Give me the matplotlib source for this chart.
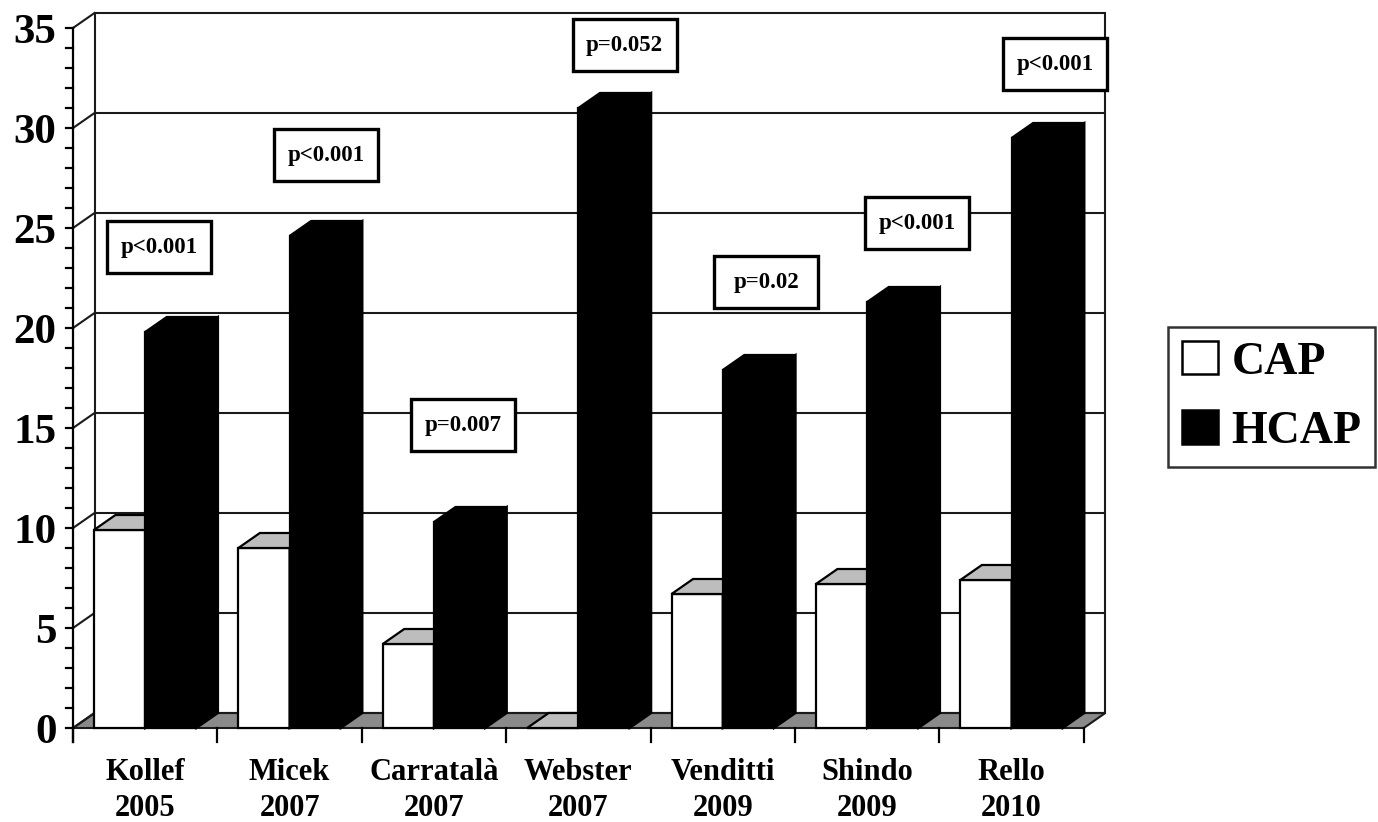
import matplotlib
matplotlib.use("Agg")
import matplotlib.pyplot as plt
from matplotlib.patches import Polygon, Patch, Rectangle

# ---------------- data ----------------
categories = ["Kollef\n2005", "Micek\n2007", "Carratalà\n2007", "Webster\n2007",
              "Venditti\n2009", "Shindo\n2009", "Rello\n2010"]
cap = [9.9, 9.0, 4.2, 0.0, 6.7, 7.2, 7.4]
hcap = [19.8, 24.6, 10.3, 31.0, 17.9, 21.3, 29.5]
p_labels = ["p<0.001", "p<0.001", "p=0.007", "p=0.052", "p=0.02", "p<0.001", "p<0.001"]
series_names = ["CAP", "HCAP"]
y_major = [0, 5, 10, 15, 20, 25, 30, 35]

# ---------------- layout ----------------
p_pos = [(0.596, 24.05), (1.752, 28.65), (2.70, 15.15), (3.82, 34.15),
         (4.80, 22.3), (5.845, 25.25), (6.80, 33.2)]
BOX_W, BOX_H = 0.72, 2.6   # p-value box size (category units, value units)
DX, DY = 0.149, 0.75      # depth offset of the pseudo-3D projection
BW = 0.355                # bar width (category units)
YMAX = 35

plt.rcParams['font.family'] = ['Liberation Serif', 'DejaVu Serif']
plt.rcParams['font.weight'] = 'bold'

fig = plt.figure(figsize=(13.78, 8.22), dpi=100)
ax = fig.add_axes([0, 0, 1, 1])
ax.set_xlim(-0.5055, 9.0374)
ax.set_ylim(-4.7, 36.4)
ax.axis('off')

n = len(categories)
GRID = '#1a1a1a'
lw_grid = 1.5

# floor
ax.add_patch(Polygon([(0, 0), (n, 0), (n + DX, DY), (DX, DY)], closed=True,
                     facecolor='#8a8a8a', edgecolor=GRID, lw=lw_grid, zorder=1))
# back wall gridlines + left wall diagonals
for v in y_major:
    ax.plot([DX, n + DX], [v + DY, v + DY], color=GRID, lw=lw_grid, zorder=2,
            solid_capstyle='butt')
    ax.plot([0, DX], [v, v + DY], color=GRID, lw=lw_grid, zorder=2)
ax.plot([DX, DX], [DY, YMAX + DY], color=GRID, lw=lw_grid, zorder=2)
ax.plot([n + DX, n + DX], [DY, YMAX + DY], color=GRID, lw=lw_grid, zorder=2)


def draw_bar(x0, h, front, top, side, z):
    ax.add_patch(Polygon([(x0, 0), (x0 + BW, 0), (x0 + BW, h), (x0, h)],
                         closed=True, fc=front, ec='black', lw=1.6, zorder=z))
    ax.add_patch(Polygon([(x0 + BW, 0), (x0 + BW + DX, DY), (x0 + BW + DX, h + DY),
                          (x0 + BW, h)], closed=True, fc=side, ec='black', lw=1.6, zorder=z))
    ax.add_patch(Polygon([(x0, h), (x0 + DX, h + DY), (x0 + BW + DX, h + DY),
                          (x0 + BW, h)], closed=True, fc=top, ec='black', lw=1.6, zorder=z))


for i in range(n):
    c = i + 0.5
    draw_bar(c - BW, cap[i], 'white', '#bdbdbd', 'white', 3 + 2 * i)
    draw_bar(c, hcap[i], 'black', 'black', 'black', 4 + 2 * i)

# front axis, ticks
ax.plot([0, 0], [-0.7, YMAX], color='black', lw=1.6, zorder=30)
for v in range(0, YMAX + 1):
    ax.plot([-0.045, 0], [v, v], color='black', lw=1.6, zorder=30)
for v in y_major:
    ax.text(-0.115, v, str(v), ha='right', va='center_baseline', fontsize=31,
            fontweight='bold', zorder=30)
for i in range(n + 1):
    ax.plot([i, i], [-0.7, 0], color='black', lw=1.6, zorder=30)
for i, lab in enumerate(categories):
    ax.text(i + 0.5, -1.5, lab, ha='center', va='top', fontsize=22,
            fontweight='bold', linespacing=1.3, zorder=30)

# p-value boxes
for (px, py), lab in zip(p_pos, p_labels):
    ax.add_patch(Rectangle((px - BOX_W / 2, py - BOX_H / 2), BOX_W, BOX_H,
                           fc='white', ec='black', lw=2.4, zorder=39))
    ax.text(px, py, lab, ha='center', va='center', fontsize=16.5, fontweight='bold',
            zorder=40)

# legend
handles = [Patch(fc='white', ec='black', lw=1.8, label=series_names[0]),
           Patch(fc='black', ec='black', lw=1.8, label=series_names[1])]
leg = fig.legend(handles=handles, loc='upper left',
                 bbox_to_anchor=(1168 / 1378, 1 - 327 / 822),
                 prop={'family': ['Liberation Serif'], 'weight': 'bold', 'size': 33},
                 frameon=True, fancybox=False, edgecolor='black',
                 handlelength=0.78, handleheight=0.75, handletextpad=0.3,
                 labelspacing=0.58, borderpad=0.3, borderaxespad=0)
leg.get_frame().set_linewidth(1.8)

fig.savefig('out.png', dpi=100)
